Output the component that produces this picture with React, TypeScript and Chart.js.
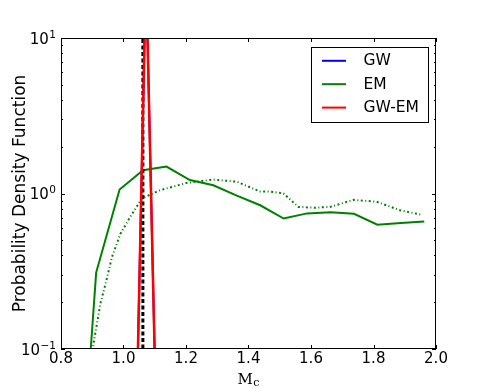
import React, { useEffect, useRef } from "react";
import { Chart, registerables } from "chart.js";

Chart.register(...registerables);

// ---- data ----
const xTicks = [0.8, 1.0, 1.2, 1.4, 1.6, 1.8, 2.0];
const yMajorTicks = [0.1, 1, 10];
const yMajorExp = ["\u22121", "0", "1"];
const yMinorTicks = [0.2, 0.3, 0.4, 0.5, 0.6, 0.7, 0.8, 0.9, 2, 3, 4, 5, 6, 7, 8, 9];

const emX = [0.8375, 0.9125, 0.9875, 1.0625, 1.1375, 1.2125, 1.2875, 1.3625, 1.4375, 1.5125, 1.5875, 1.6625, 1.7375, 1.8125, 1.8875, 1.9625];
const emY = [0.0023, 0.31, 1.06, 1.41, 1.49, 1.22, 1.13, 0.97, 0.84, 0.69, 0.745, 0.757, 0.74, 0.63, 0.645, 0.66];

const kdeX = [0.88, 0.904, 0.926, 0.942, 0.963, 0.99, 1.022, 1.059, 1.117, 1.203, 1.288, 1.363, 1.437, 1.469, 1.512, 1.56, 1.61, 1.661, 1.736, 1.81, 1.885, 1.954];
const kdeY = [0.03, 0.108, 0.196, 0.26, 0.39, 0.55, 0.71, 0.93, 1.05, 1.17, 1.23, 1.19, 1.03, 1.03, 1.0, 0.82, 0.81, 0.82, 0.91, 0.885, 0.78, 0.73];

const gwX = [1.025, 1.072, 1.122];
const gwY = [0.001, 27, 0.001];

const gwemX = [1.025, 1.072, 1.122];
const gwemY = [0.001, 27, 0.001];

const truthX = [1.062, 1.062];
const truthY = [0.01, 100];

const legendLabels = ["GW", "EM", "GW-EM"];
const legendColors = ["#0000ff", "#008000", "#ff0000"];

const yTitle = "Probability Density Function";
const xTitleMain = "M";
const xTitleSub = "c";

const pts = (xs: number[], ys: number[]) => xs.map((x, i) => ({ x, y: ys[i] }));

const SANS = '"DejaVu Sans", sans-serif';

const decorPlugin = {
  id: "decor",
  afterDraw(chart: any) {
    const { ctx, chartArea } = chart;
    const xs = chart.scales.x;
    const ys = chart.scales.y;
    const { left, right, top, bottom } = chartArea;
    ctx.save();
    // frame
    ctx.strokeStyle = "#000";
    ctx.lineWidth = 1;
    ctx.strokeRect(left + 0.5, top + 0.5, right - left - 1, bottom - top - 1);

    // ticks
    ctx.beginPath();
    xTicks.forEach((v) => {
      const px = Math.round(xs.getPixelForValue(v)) + 0.5;
      ctx.moveTo(px, bottom);
      ctx.lineTo(px, bottom - 4);
      ctx.moveTo(px, top);
      ctx.lineTo(px, top + 4);
    });
    yMajorTicks.forEach((v) => {
      const py = Math.round(ys.getPixelForValue(v)) + 0.5;
      ctx.moveTo(left, py);
      ctx.lineTo(left + 4, py);
      ctx.moveTo(right, py);
      ctx.lineTo(right - 4, py);
    });
    yMinorTicks.forEach((v) => {
      const py = Math.round(ys.getPixelForValue(v)) + 0.5;
      ctx.moveTo(left, py);
      ctx.lineTo(left + 2, py);
      ctx.moveTo(right, py);
      ctx.lineTo(right - 2, py);
    });
    ctx.stroke();

    // y tick labels (10^n)
    ctx.fillStyle = "#000";
    yMajorTicks.forEach((v, i) => {
      const py = ys.getPixelForValue(v);
      ctx.font = `10.5px ${SANS}`;
      ctx.textAlign = "right";
      ctx.textBaseline = "alphabetic";
      const supW = ctx.measureText(yMajorExp[i]).width;
      const xEnd = left - 5;
      ctx.fillText(yMajorExp[i], xEnd, py - 0.5);
      ctx.font = `15px ${SANS}`;
      ctx.fillText("10", xEnd - supW - 0.5, py + 5.5);
    });

    // y title
    ctx.save();
    ctx.translate(25, (top + bottom) / 2);
    ctx.rotate(-Math.PI / 2);
    ctx.font = `17px ${SANS}`;
    ctx.textAlign = "center";
    ctx.textBaseline = "alphabetic";
    ctx.fillText(yTitle, 0, 0);
    ctx.restore();

    // x title
    ctx.font = `15px "DejaVu Serif", serif`;
    ctx.textAlign = "left";
    ctx.textBaseline = "alphabetic";
    const cx = (left + right) / 2;
    const mW = ctx.measureText(xTitleMain).width;
    ctx.fillText(xTitleMain, cx - 11, 383.5);
    ctx.font = `11px "DejaVu Serif", serif`;
    ctx.fillText(xTitleSub, cx - 11 + mW + 0.5, 385.5);

    // legend
    const lx = 311.5, ly = 47.5, lw = 117, lh = 75;
    ctx.fillStyle = "#fff";
    ctx.fillRect(lx, ly, lw, lh);
    ctx.strokeStyle = "#000";
    ctx.lineWidth = 1;
    ctx.strokeRect(lx, ly, lw, lh);
    const rows = [60.8, 84.2, 107.6];
    legendLabels.forEach((lab, i) => {
      ctx.strokeStyle = legendColors[i];
      ctx.lineWidth = 2;
      ctx.beginPath();
      ctx.moveTo(322, rows[i]);
      ctx.lineTo(346, rows[i]);
      ctx.stroke();
      ctx.fillStyle = "#000";
      ctx.font = `15.5px ${SANS}`;
      ctx.textAlign = "left";
      ctx.textBaseline = "middle";
      ctx.fillText(lab, 363.5, rows[i] + 0.5);
    });
    ctx.restore();
  },
};

export default function App() {
  const ref = useRef<HTMLCanvasElement | null>(null);
  useEffect(() => {
    if (!ref.current) return;
    const chart = new Chart(ref.current, {
      type: "scatter",
      data: {
        datasets: [
          {
            label: "GW-EM",
            data: pts(gwemX, gwemY),
            showLine: true,
            borderColor: "#ff0000",
            borderWidth: 2.5,
            pointRadius: 0,
            order: 0,
            clip: 0,
          },
          {
            label: "truth",
            data: pts(truthX, truthY),
            showLine: true,
            borderColor: "#000000",
            borderWidth: 3,
            borderDash: [4, 2.5],
            pointRadius: 0,
            order: 1,
            clip: 0,
          },
          {
            label: "GW",
            data: pts(gwX, gwY),
            showLine: true,
            borderColor: "#0000ff",
            borderWidth: 2,
            pointRadius: 0,
            order: 2,
            clip: 0,
          },
          {
            label: "EM",
            data: pts(emX, emY),
            showLine: true,
            borderColor: "#008000",
            borderWidth: 2,
            pointRadius: 0,
            order: 3,
            clip: 0,
          },
          {
            label: "EM KDE",
            data: pts(kdeX, kdeY),
            showLine: true,
            borderColor: "#008000",
            borderWidth: 2,
            borderDash: [2, 2.5, 1, 2.5],
            pointRadius: 0,
            order: 4,
            clip: 0,
          },
        ] as any,
      },
      options: {
        animation: false,
        responsive: false,
        maintainAspectRatio: false,
        layout: { padding: { top: 38, right: 49, left: 0, bottom: 0 } },
        plugins: { legend: { display: false }, tooltip: { enabled: false } },
        scales: {
          x: {
            type: "linear",
            min: 0.8,
            max: 2.0,
            grid: { display: false, drawTicks: false },
            border: { display: false },
            ticks: {
              stepSize: 0.2,
              color: "#000",
              padding: 1,
              font: { family: "DejaVu Sans", size: 15 },
              maxRotation: 0,
              callback: (v: any) => Number(v).toFixed(1),
            },
            afterFit: (s: any) => {
              s.height = 39;
            },
          },
          y: {
            type: "logarithmic",
            min: 0.1,
            max: 10,
            grid: { display: false, drawTicks: false },
            border: { display: false },
            ticks: { display: false },
            afterFit: (s: any) => {
              s.width = 61;
            },
          },
        },
      } as any,
      plugins: [decorPlugin],
    });
    return () => chart.destroy();
  }, []);
  return (
    <div style={{ position: "fixed", left: 0, top: 0, width: 485, height: 388, background: "#fff" }}>
      <canvas ref={ref} width={485} height={388} style={{ display: "block", width: 485, height: 388 }} />
    </div>
  );
}
